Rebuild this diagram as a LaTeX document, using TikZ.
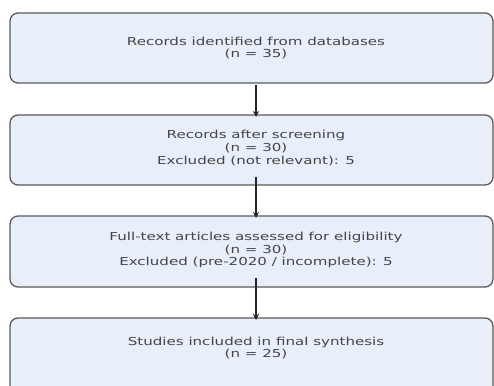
\documentclass[tikz,border=0pt]{standalone}
\usepackage{fontspec}
\setmainfont{DejaVu Sans}
\newfontfamily\widefont[FakeStretch=1.37]{DejaVu Sans}
\usetikzlibrary{arrows.meta}
\definecolor{boxfill}{HTML}{E8EEFA}
\definecolor{boxline}{HTML}{5A5A5A}
\definecolor{txt}{HTML}{454545}
\begin{document}
\begin{tikzpicture}[x=1pt,y=1pt,
  flowbox/.style={draw=boxline,line width=1.3pt,fill=boxfill,rounded corners=8pt},
  lbl/.style={text=txt,font=\widefont\fontsize{11}{12.8}\selectfont,align=center},
  conn/.style={line width=1.5pt,black!85,-{Stealth[length=6pt,width=6pt]}}]
\useasboundingbox (0,0) rectangle (494,-385);
\fill[white] (0,0) rectangle (494,-385);
% boxes
\draw[flowbox] (10,-13) rectangle (493,-83);
\node[lbl] (t1) at (256,-48) {Records identified from databases\\(n = 35)};
\draw[flowbox] (10,-115) rectangle (493,-185);
\node[lbl] (t2) at (256,-148) {Records after screening\\(n = 30)\\Excluded (not relevant): 5};
\draw[flowbox] (10,-216) rectangle (493,-287);
\node[lbl] (t3) at (256,-250) {Full-text articles assessed for eligibility\\(n = 30)\\Excluded (pre-2020 / incomplete): 5};
\draw[flowbox] (10,-318) rectangle (493,-395);
\node[lbl] (t4) at (256,-348) {Studies included in final synthesis\\(n = 25)};
% connectors
\coordinate (s1) at (256,-85);
\coordinate (e1) at (256,-117);
\coordinate (s2) at (256,-177);
\coordinate (e2) at (256,-218);
\coordinate (s3) at (256,-278);
\coordinate (e3) at (256,-320);
\draw[conn] (s1) -- (e1);
\draw[conn] (s2) -- (e2);
\draw[conn] (s3) -- (e3);
\end{tikzpicture}
\end{document}
